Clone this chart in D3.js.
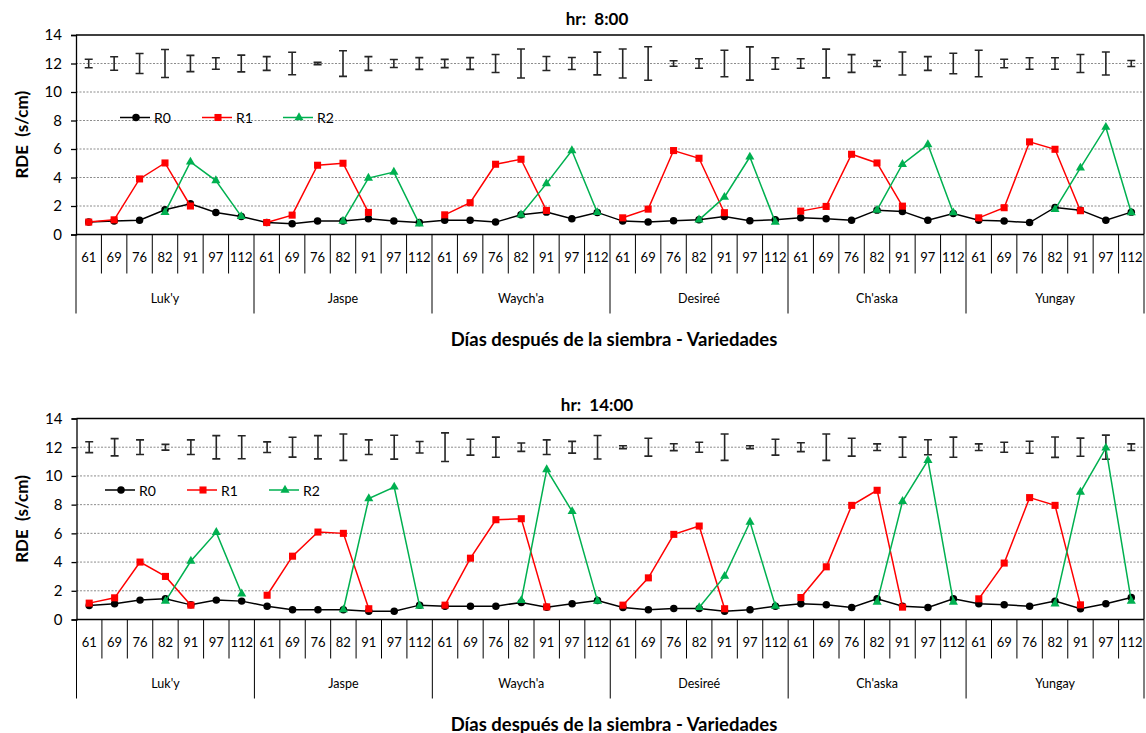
<!DOCTYPE html>
<html>
<head>
<meta charset="utf-8">
<script src="https://cdn.jsdelivr.net/npm/d3@7"></script>
<style>
  html, body { margin: 0; padding: 0; background: #fff; }
  svg { display: block; }
  text { font-family: Lato, "Open Sans", sans-serif; fill: #000; }
</style>
</head>
<body>
<svg id="chart" width="1146" height="733"></svg>
<script>
// Categories
const varieties = ["Luk'y", "Jaspe", "Waych'a", "Desireé", "Ch'aska", "Yungay"];
const days = ["61", "69", "76", "82", "91", "97", "112"];
const yTickValues = [0, 2, 4, 6, 8, 10, 12, 14];
const seriesNames = ["R0", "R1", "R2"];

// hr 8:00 — RDE (s/cm) per variety × day
const r0_0800 = [0.87, 0.94, 1.0, 1.74, 2.16, 1.55, 1.27,
                 0.84, 0.75, 0.94, 0.94, 1.1, 0.94, 0.85,
                 1.0, 1.0, 0.87, 1.38, 1.57, 1.1, 1.55,
                 0.94, 0.87, 0.96, 1.03, 1.27, 0.96, 1.03,
                 1.17, 1.1, 1.0, 1.71, 1.62, 1.0, 1.48,
                 1.0, 0.94, 0.84, 1.9, 1.71, 1.0, 1.57];
const r1_0800 = [0.87, 1.03, 3.9, 5.02, 2.0, null, null,
                 0.84, 1.36, 4.86, 5.0, 1.55, null, null,
                 1.38, 2.23, 4.93, 5.28, 1.69, null, null,
                 1.17, 1.78, 5.89, 5.35, 1.53, null, null,
                 1.64, 1.97, 5.63, 5.02, 1.99, null, null,
                 1.17, 1.88, 6.5, 5.98, 1.67, null, null];
const r2_0800 = [null, null, null, 1.55, 5.09, 3.78, 1.27,
                 null, null, null, 0.94, 3.96, 4.38, 0.75,
                 null, null, null, 1.38, 3.57, 5.89, 1.55,
                 null, null, null, 1.03, 2.62, 5.44, 0.87,
                 null, null, null, 1.71, 4.93, 6.31, 1.53,
                 null, null, null, 1.76, 4.67, 7.53, 1.53];
const err_0800 = [0.3, 0.47, 0.7, 0.98, 0.57, 0.4, 0.59,
                  0.48, 0.79, 0.08, 0.9, 0.48, 0.28, 0.41,
                  0.29, 0.41, 0.63, 1.02, 0.49, 0.42, 0.8,
                  1.02, 1.18, 0.19, 0.33, 0.93, 1.17, 0.4,
                  0.33, 1.01, 0.62, 0.21, 0.81, 0.48, 0.72,
                  0.93, 0.3, 0.4, 0.4, 0.63, 0.81, 0.21];

// hr 14:00
const r0_1400 = [0.98, 1.09, 1.35, 1.44, 1.02, 1.35, 1.28,
                 0.93, 0.68, 0.68, 0.68, 0.58, 0.58, 1.0,
                 0.93, 0.93, 0.93, 1.19, 0.86, 1.09, 1.33,
                 0.84, 0.68, 0.77, 0.77, 0.58, 0.68, 0.93,
                 1.09, 1.02, 0.84, 1.44, 0.93, 0.84, 1.44,
                 1.09, 1.02, 0.93, 1.28, 0.75, 1.09, 1.53];
const r1_1400 = [1.14, 1.51, 4.0, 3.0, 1.0, null, null,
                 1.69, 4.41, 6.09, 6.0, 0.75, null, null,
                 1.0, 4.27, 6.95, 7.02, 0.88, null, null,
                 1.0, 2.9, 5.93, 6.51, 0.75, null, null,
                 1.53, 3.67, 7.95, 9.0, 0.86, null, null,
                 1.44, 3.93, 8.49, 7.95, 1.02, null, null];
const r2_1400 = [null, null, null, 1.28, 4.07, 6.07, 1.79,
                 null, null, null, 0.68, 8.42, 9.23, 0.93,
                 null, null, null, 1.33, 10.44, 7.53, 1.28,
                 null, null, null, 0.84, 3.02, 6.79, 0.93,
                 null, null, null, 1.21, 8.23, 11.09, 1.21,
                 null, null, null, 1.09, 8.88, 11.95, 1.28];
const err_1400 = [0.38, 0.6, 0.51, 0.2, 0.51, 0.81, 0.8,
                  0.37, 0.69, 0.81, 0.92, 0.51, 0.83, 0.4,
                  1.0, 0.55, 0.7, 0.29, 0.51, 0.41, 0.82,
                  0.1, 0.62, 0.24, 0.35, 0.92, 0.1, 0.55,
                  0.31, 0.92, 0.62, 0.23, 0.7, 0.52, 0.7,
                  0.23, 0.35, 0.42, 0.71, 0.63, 0.84, 0.23];

// Error bars are drawn around this level
const errCenter = 12;

const colors = { R0: "#000000", R1: "#FF0000", R2: "#00B050" };

const svg = d3.select("#chart");

// Category list: every variety × every day
const cats = [];
varieties.forEach(v => days.forEach(d => cats.push({ variety: v, day: d })));

function drawPanel(cfg) {
  const { left, right, top, bottom, title, titleY, series, err, legend } = cfg;
  const g = svg.append("g");

  const x = d3.scaleBand().domain(d3.range(cats.length)).range([left, right]).paddingInner(0).paddingOuter(0);
  const y = d3.scaleLinear().domain([0, 14]).range([bottom, top]);
  const cx = i => x(i) + x.bandwidth() / 2;

  // dotted gridlines
  g.append("g").selectAll("line")
    .data(yTickValues.filter(v => v > 0 && v < 14))
    .join("line")
    .attr("x1", left).attr("x2", right)
    .attr("y1", d => y(d)).attr("y2", d => y(d))
    .attr("stroke", "#8c8c8c").attr("stroke-width", 1)
    .attr("stroke-dasharray", "2,1.5");

  // plot frame: top and right
  g.append("path")
    .attr("d", `M${left},${top}H${right}V${bottom}`)
    .attr("fill", "none").attr("stroke", "#000").attr("stroke-width", 1.3);

  // y axis
  const yAxis = g.append("g").attr("transform", `translate(${left},0)`)
    .call(d3.axisLeft(y).tickValues(yTickValues).tickSize(5).tickPadding(9));
  yAxis.select(".domain").attr("stroke", "#000").attr("stroke-width", 1.3);
  yAxis.selectAll(".tick line").attr("stroke", "#000").attr("stroke-width", 1.3);
  yAxis.selectAll(".tick text")
    .style("font-family", "Lato, sans-serif").style("font-size", "15px").attr("fill", "#000");

  // category axis: baseline, day cells, variety groups
  const catAxis = g.append("g");
  catAxis.append("line")
    .attr("x1", left).attr("x2", right).attr("y1", bottom).attr("y2", bottom)
    .attr("stroke", "#000").attr("stroke-width", 1.3);
  const edges = d3.range(cats.length + 1);
  catAxis.selectAll("line.sep")
    .data(edges)
    .join("line")
    .attr("class", "sep")
    .attr("x1", k => k < cats.length ? x(k) : right)
    .attr("x2", k => k < cats.length ? x(k) : right)
    .attr("y1", bottom)
    .attr("y2", k => (k % days.length === 0) ? bottom + 79 : bottom + 39)
    .attr("stroke", "#000").attr("stroke-width", 1);
  catAxis.selectAll("text.day")
    .data(cats)
    .join("text")
    .attr("class", "day")
    .attr("x", (d, i) => cx(i))
    .attr("y", bottom + 22)
    .attr("text-anchor", "middle")
    .attr("dominant-baseline", "central")
    .style("font-size", "13px")
    .text(d => d.day);
  catAxis.selectAll("text.variety")
    .data(varieties)
    .join("text")
    .attr("class", "variety")
    .attr("x", (v, j) => (cx(j * days.length) + cx(j * days.length + days.length - 1)) / 2)
    .attr("y", bottom + 63.5)
    .attr("text-anchor", "middle")
    .attr("dominant-baseline", "central")
    .style("font-size", "12.5px")
    .text(v => v);

  // axis titles
  g.append("text")
    .attr("x", 597).attr("y", titleY)
    .attr("text-anchor", "middle")
    .attr("dominant-baseline", "central")
    .style("font-size", "17px").style("font-weight", "bold")
    .style("white-space", "pre")
    .text(title);
  g.append("text")
    .attr("x", 614).attr("y", bottom + 104)
    .attr("text-anchor", "middle")
    .attr("dominant-baseline", "central")
    .style("font-size", "18.5px").style("font-weight", "bold")
    .text("Días después de la siembra - Variedades");
  g.append("text")
    .attr("transform", `translate(21,${(top + bottom) / 2}) rotate(-90)`)
    .attr("text-anchor", "middle")
    .attr("dominant-baseline", "central")
    .style("font-size", "17px").style("font-weight", "bold")
    .style("white-space", "pre")
    .text("RDE  (s/cm)");

  // error bars around errCenter
  const eb = g.append("g").attr("stroke", "#262626").attr("stroke-width", 1.6).attr("fill", "none");
  eb.selectAll("path")
    .data(err)
    .join("path")
    .attr("d", (e, i) => {
      const xc = cx(i), y1 = y(errCenter + e), y0 = y(errCenter - e), w = 4;
      return `M${xc - w},${y1}H${xc + w}M${xc},${y1}V${y0}M${xc - w},${y0}H${xc + w}`;
    });

  // series lines and markers
  const line = d3.line()
    .defined(d => d.v != null)
    .x(d => cx(d.i)).y(d => y(d.v));

  const symbolFor = {
    R0: d3.symbol().type(d3.symbolCircle).size(44),
    R1: d3.symbol().type(d3.symbolSquare).size(50),
    R2: d3.symbol().type(d3.symbolTriangle).size(36)
  };

  seriesNames.forEach((name, si) => {
    const pts = series[si].map((v, i) => ({ i, v }));
    const sg = g.append("g");
    sg.append("path")
      .datum(pts)
      .attr("d", line)
      .attr("fill", "none")
      .attr("stroke", colors[name])
      .attr("stroke-width", 1.5);
    sg.selectAll("path.mk")
      .data(pts.filter(p => p.v != null))
      .join("path")
      .attr("class", "mk")
      .attr("transform", p => `translate(${cx(p.i)},${y(p.v)})`)
      .attr("d", symbolFor[name])
      .attr("fill", colors[name]);
  });

  // legend
  const lg = g.append("g");
  seriesNames.forEach((name, si) => {
    const lx = legend.x[si], ly = legend.y;
    lg.append("line")
      .attr("x1", lx).attr("x2", lx + 30).attr("y1", ly).attr("y2", ly)
      .attr("stroke", colors[name]).attr("stroke-width", 1.5);
    lg.append("path")
      .attr("transform", `translate(${lx + 16},${ly})`)
      .attr("d", symbolFor[name])
      .attr("fill", colors[name]);
    lg.append("text")
      .attr("x", lx + 34).attr("y", ly)
      .attr("dominant-baseline", "central")
      .style("font-size", "14px")
      .text(name);
  });
}

drawPanel({
  left: 76, right: 1144, top: 35, bottom: 234.5,
  title: "hr:  8:00", titleY: 18.5,
  series: [r0_0800, r1_0800, r2_0800],
  err: err_0800,
  legend: { x: [120, 202, 283], y: 117.5 }
});

drawPanel({
  left: 76.5, right: 1144, top: 418.5, bottom: 619.5,
  title: "hr:  14:00", titleY: 404,
  series: [r0_1400, r1_1400, r2_1400],
  err: err_1400,
  legend: { x: [105, 187, 269], y: 490 }
});
</script>
</body>
</html>
